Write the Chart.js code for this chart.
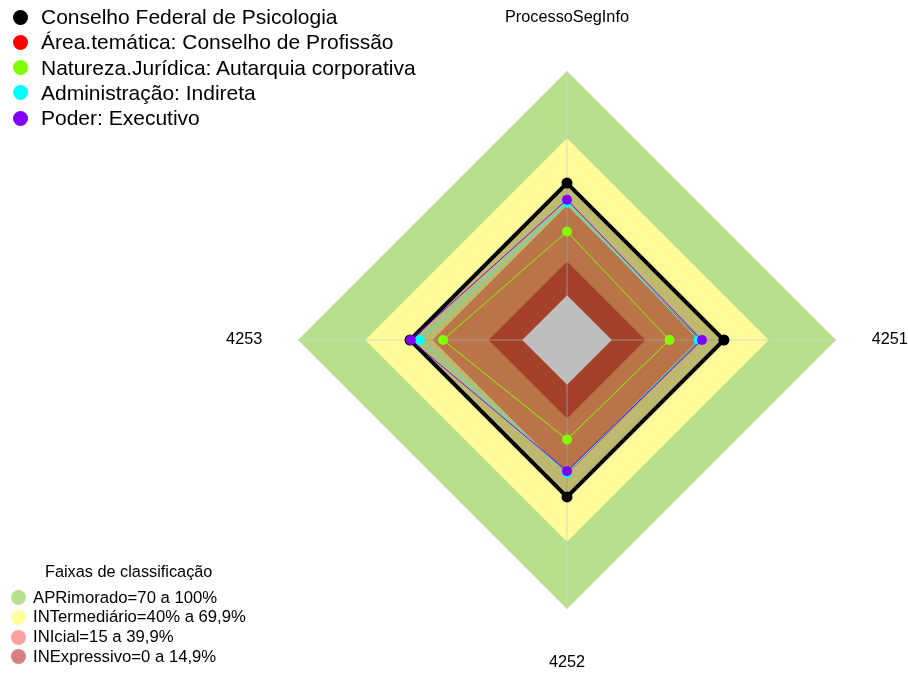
<!DOCTYPE html>
<html>
<head>
<meta charset="utf-8">
<script src="https://cdn.jsdelivr.net/npm/chart.js@4/dist/chart.umd.min.js"></script>
<style>
  html, body { margin: 0; padding: 0; background: #fff; }
  #wrap { position: relative; width: 908px; height: 675px; font-family: 'Liberation Sans', Arial, sans-serif; color: #000; }
  #radar { position: absolute; left: 0; top: 0; }
  .leg { position: absolute; white-space: nowrap; }
  .leg .dot { position: absolute; border-radius: 50%; }
</style>
</head>
<body>
<div id="wrap">
  <canvas id="radar" width="908" height="675"></canvas>
  <div id="seriesLegend"></div>
  <div id="bandLegend"></div>
</div>
<script>
// axes, clockwise from top
const axisLabels = ['ProcessoSegInfo', '4251', '4252', '4253'];

// series
const seriesNames = [
  'Conselho Federal de Psicologia',
  'Área.temática: Conselho de Profissão',
  'Natureza.Jurídica: Autarquia corporativa',
  'Administração: Indireta',
  'Poder: Executivo'
];
const seriesColors = ['#000000', '#ff0000', '#80ff00', '#00ffff', '#8000ff'];
const conselhoFederal = [50, 50, 50, 50];
const areaTematica = [50, 50, 50, 50];
const naturezaJuridica = [28.4, 25.7, 24.4, 35.3];
const administracao = [41.2, 38.7, 39.4, 45.7];
const poder = [42.6, 40.2, 38.5, 49.7];

// classification bands
const bandTitle = 'Faixas de classificação';
const bandNames = [
  'APRimorado=70 a 100%',
  'INTermediário=40% a 69,9%',
  'INIcial=15 a 39,9%',
  'INExpressivo=0 a 14,9%'
];
const bandLimits = [100, 70, 40, 15];
const bandFill = ['#b8e08c', '#fffb98', 'rgb(253,157,97)', 'rgb(223,87,57)'];
const bandDots = ['#b8e08c', '#ffff9e', '#ffa0a0', '#d88080'];
const scaleMin = -20;
const scaleMax = 100;

const flat = (v) => axisLabels.map(() => v);

const datasets = [];
bandLimits.forEach((lim, i) => {
  datasets.push({
    label: bandNames[i],
    data: flat(lim),
    backgroundColor: bandFill[i],
    borderWidth: 0,
    pointRadius: 0,
    fill: 'start',
    order: 20 - i
  });
});
const darkBandIndex = datasets.length - 1;

const seriesData = [conselhoFederal, areaTematica, naturezaJuridica, administracao, poder];
const seriesOrder = [10, 11, 3, 2, 1];
seriesData.forEach((vals, i) => {
  datasets.push({
    label: seriesNames[i],
    data: vals,
    borderColor: seriesColors[i],
    backgroundColor: i === 0 ? 'rgba(0,0,0,0.26)' : 'transparent',
    pointBackgroundColor: seriesColors[i],
    pointBorderWidth: 0,
    pointRadius: i === 0 ? 5.5 : 5,
    borderWidth: i === 0 ? 4 : 1,
    fill: i === 0 ? 'start' : false,
    order: seriesOrder[i]
  });
});

// grey centre (below 0)
datasets.push({
  label: 'centro',
  data: flat(0),
  backgroundColor: '#bebebe',
  borderWidth: 0,
  pointRadius: 0,
  fill: 'start',
  order: 5
});

const overlay = {
  id: 'overlay',
  afterDatasetDraw(chart, args) {
    if (args.index !== darkBandIndex) return;
    const s = chart.scales.r;
    const ctx = chart.ctx;
    ctx.save();
    ctx.strokeStyle = 'rgba(210,210,210,0.85)';
    ctx.lineWidth = 1;
    axisLabels.forEach((l, i) => {
      const p = s.getPointPositionForValue(i, scaleMax);
      ctx.beginPath();
      ctx.moveTo(s.xCenter, s.yCenter);
      ctx.lineTo(p.x, p.y);
      ctx.stroke();
    });
    ctx.restore();
  },
  afterDraw(chart) {
    const s = chart.scales.r;
    const ctx = chart.ctx;
    ctx.save();
    ctx.fillStyle = '#000';
    ctx.font = "16.3px 'Liberation Sans', Arial, sans-serif";
    ctx.textAlign = 'center';
    ctx.textBaseline = 'middle';
    axisLabels.forEach((l, i) => {
      const p = s.getPointPosition(i, s.drawingArea * 1.2);
      ctx.fillText(l, p.x, p.y);
    });
    ctx.restore();
  }
};

new Chart(document.getElementById('radar').getContext('2d'), {
  type: 'radar',
  data: { labels: axisLabels, datasets: datasets },
  options: {
    responsive: false,
    devicePixelRatio: 1,
    animation: false,
    events: [],
    layout: { padding: { left: 298, right: 72, top: 71, bottom: 66 } },
    elements: { line: { tension: 0 } },
    plugins: { legend: { display: false }, tooltip: { enabled: false } },
    scales: {
      r: {
        min: scaleMin,
        max: scaleMax,
        ticks: { display: false },
        grid: { display: false },
        angleLines: { display: false },
        pointLabels: { display: false }
      }
    }
  },
  plugins: [overlay]
});

// series legend (top left)
const sl = document.getElementById('seriesLegend');
seriesNames.forEach((name, i) => {
  const cy = 17 + i * 25.3;
  const row = document.createElement('div');
  row.className = 'leg';
  row.style.cssText = `left:0;top:${cy - 12}px;height:24px;line-height:24px;font-size:21px;padding-left:41px;`;
  row.innerHTML = `<span class="dot" style="left:13px;top:4.5px;width:15px;height:15px;background:${seriesColors[i]}"></span>${name}`;
  sl.appendChild(row);
});

// band legend (bottom left)
const bl = document.getElementById('bandLegend');
const t = document.createElement('div');
t.className = 'leg';
t.style.cssText = 'left:45px;top:561px;height:20px;line-height:20px;font-size:16.3px;';
t.textContent = bandTitle;
bl.appendChild(t);
bandNames.forEach((name, i) => {
  const cy = 597.5 + i * 19.8;
  const row = document.createElement('div');
  row.className = 'leg';
  row.style.cssText = `left:0;top:${cy - 10}px;height:20px;line-height:20px;font-size:16.7px;padding-left:33px;`;
  row.innerHTML = `<span class="dot" style="left:11px;top:2.5px;width:15px;height:15px;background:${bandDots[i]}"></span>${name}`;
  bl.appendChild(row);
});
</script>
</body>
</html>
